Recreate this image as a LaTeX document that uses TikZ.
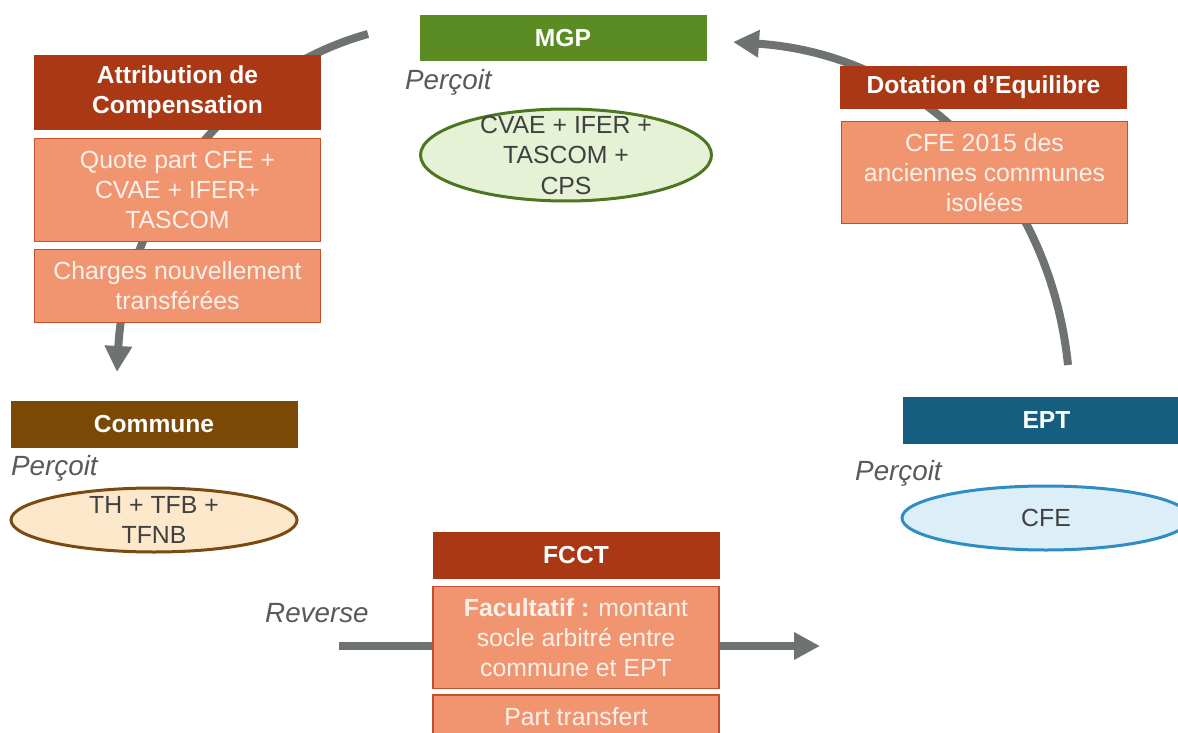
\documentclass[tikz,border=0pt]{standalone}
\usepackage{fontspec}
\setmainfont{Liberation Sans}
\usetikzlibrary{arrows.meta,shapes.geometric}

\definecolor{boxred}{HTML}{AA3814}
\definecolor{boxsalmon}{HTML}{F19470}
\definecolor{boxedge}{HTML}{C4502C}
\definecolor{boxtext}{HTML}{FDF1EB}
\definecolor{mgpgreen}{HTML}{5A8C23}
\definecolor{mgpfill}{HTML}{E6F2D6}
\definecolor{mgpedge}{HTML}{4C7620}
\definecolor{communebrown}{HTML}{7A4906}
\definecolor{communefill}{HTML}{FDE8CB}
\definecolor{communeedge}{HTML}{7A4A10}
\definecolor{eptblue}{HTML}{165E80}
\definecolor{eptfill}{HTML}{DCEEF8}
\definecolor{eptedge}{HTML}{2E8DC2}
\definecolor{flowgray}{HTML}{6E7372}
\definecolor{ink}{HTML}{404040}
\definecolor{taggray}{HTML}{595959}

\begin{document}
\begin{tikzpicture}[x=1pt, y=-1pt,
  head/.style={fill=boxred, text=white, font=\fontsize{24.6}{30}\selectfont\bfseries, minimum width=287pt, inner sep=0pt, align=center},
  body/.style={fill=boxsalmon, draw=boxedge, line width=1.5pt, text=boxtext, font=\fontsize{24.8}{30}\selectfont, minimum width=286pt, inner sep=0pt, align=center},
  paid/.style={ellipse, line width=3pt, inner sep=0pt},
  paidtext/.style={text=ink, font=\fontsize{24.8}{30.5}\selectfont, inner sep=0pt, align=center},
  tag/.style={anchor=west, text=taggray, font=\fontsize{27.8}{32}\selectfont\itshape, inner sep=0pt},
  flow/.style={draw=flowgray, line width=8pt, -{Triangle[width=26pt,length=26pt]}}]

\clip (0,0) rectangle (1178,733);

% free ends of the flows
\coordinate (acfrom) at (368,34);
\coordinate (acto) at (117,372);
\coordinate (defrom) at (1068,365);
\coordinate (deto) at (733,42);
\coordinate (fcfrom) at (339,646);
\coordinate (fcto) at (820,646);

\draw[flow] (acfrom) .. controls (220,75) and (125,220) .. (acto);
\draw[flow] (defrom) .. controls (1050,190) and (925,55) .. (deto);
\draw[flow] (fcfrom) -- (fcto);

% MGP
\node[head, fill=mgpgreen, minimum height=46pt] (mgp) at (563,38) {MGP};
\node[tag] (mgptag) at (405,82) {Perçoit};
\node[paid, fill=mgpfill, draw=mgpedge, minimum width=291pt, minimum height=92pt] (mgppaid) at (566,155) {};
\node[paidtext] (mgpsum) at (mgppaid) {CVAE + IFER +\\TASCOM +\\CPS};

% attribution de compensation
\node[head, minimum height=75pt] (ac) at (177.5,92.5) {Attribution de\\Compensation};
\node[body, minimum height=103pt] (acpart) at (177.5,190) {Quote part CFE +\\CVAE + IFER+\\TASCOM};
\node[body, minimum height=73pt] (accharges) at (177.5,286) {Charges nouvellement\\transférées};

% commune
\node[head, fill=communebrown, minimum height=47pt] (commune) at (154,424.5) {Commune};
\node[tag] (communetag) at (11,468) {Perçoit};
\node[paid, fill=communefill, draw=communeedge, minimum width=286pt, minimum height=64pt] (communepaid) at (154,520) {};
\node[paidtext] (communesum) at (communepaid) {TH + TFB +\\TFNB};

% FCCT
\node[tag] (reverse) at (265,613) {Reverse};
\node[head, minimum height=47pt] (fcct) at (576,555.5) {FCCT};
\node[body, minimum height=102pt] (fcctopt) at (576,637.5) {\textbf{Facultatif :} montant\\socle arbitré entre\\commune et EPT};
\node[body, minimum height=44pt] (fccttransfer) at (576,717) {Part transfert};

% EPT
\node[head, fill=eptblue, minimum height=47pt] (ept) at (1046.5,420.5) {EPT};
\node[tag] (epttag) at (855,473) {Perçoit};
\node[paid, fill=eptfill, draw=eptedge, minimum width=288pt, minimum height=64pt] (eptpaid) at (1046,518) {};
\node[paidtext] (eptsum) at (eptpaid) {CFE};

% dotation d'equilibre
\node[head, minimum height=43pt] (dot) at (983.5,87.5) {Dotation d’Equilibre};
\node[body, minimum height=102pt] (dotcfe) at (984.5,172.5) {CFE 2015 des\\anciennes communes\\isolées};
\end{tikzpicture}
\end{document}
